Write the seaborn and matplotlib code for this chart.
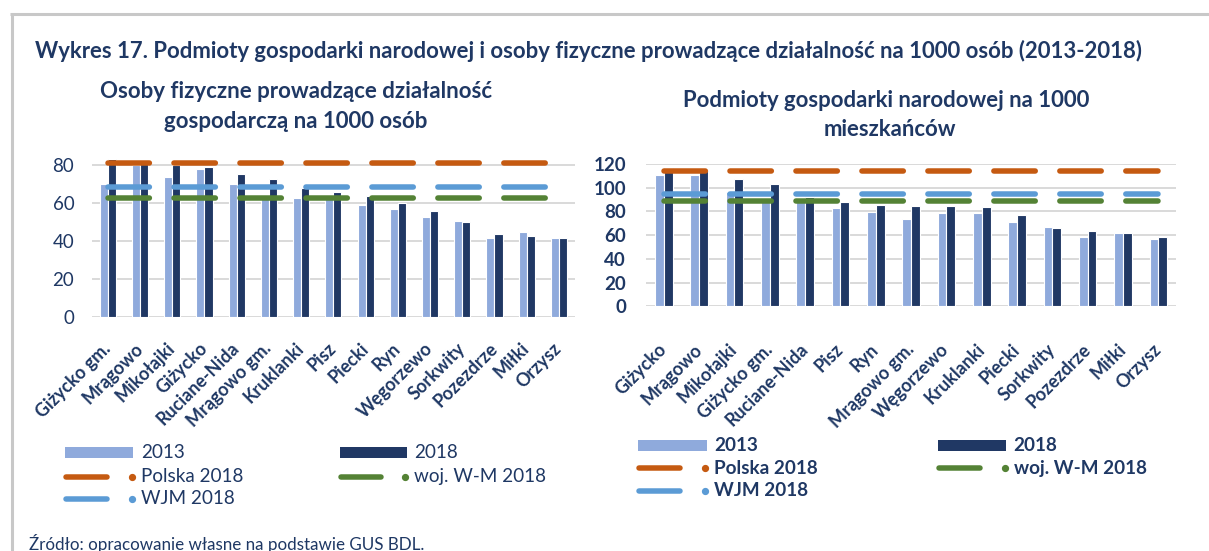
import numpy as np
import pandas as pd
import matplotlib
matplotlib.use("Agg")
import matplotlib.pyplot as plt
import matplotlib.transforms as mtransforms
from matplotlib.lines import Line2D
from matplotlib.patches import Rectangle
import seaborn as sns

# ---------------- data ----------------
left_categories = ["Giżycko gm.", "Mrągowo", "Mikołajki", "Giżycko", "Ruciane-Nida",
                   "Mrągowo gm.", "Kruklanki", "Pisz", "Piecki", "Ryn", "Węgorzewo",
                   "Sorkwity", "Pozezdrze", "Miłki", "Orzysz"]
left_2013 = [70.1, 80.0, 73.8, 78.0, 70.1, 63.0, 62.7, 63.0, 58.8, 56.8, 52.7, 50.6, 41.2, 44.4, 41.2]
left_2018 = [83.0, 80.5, 80.0, 78.9, 75.0, 72.7, 67.6, 65.8, 63.7, 60.0, 55.8, 49.7, 43.3, 42.3, 41.2]
left_polska = 81.1
left_woj = 62.8
left_wjm = 68.5

right_categories = ["Giżycko", "Mrągowo", "Mikołajki", "Giżycko gm.", "Ruciane-Nida",
                    "Pisz", "Ryn", "Mrągowo gm.", "Węgorzewo", "Kruklanki", "Piecki",
                    "Sorkwity", "Pozezdrze", "Miłki", "Orzysz"]
right_2013 = [111.0, 111.0, 96.0, 91.0, 90.0, 82.9, 79.8, 73.9, 79.0, 79.0, 70.8, 66.6, 58.7, 61.8, 56.7]
right_2018 = [117.0, 114.0, 107.0, 102.8, 92.0, 88.0, 85.7, 84.6, 84.6, 83.7, 76.7, 65.7, 63.5, 61.8, 58.7]
right_polska = 114.0
right_woj = 89.0
right_wjm = 94.4

years = ["2013", "2018"]
left_yticks = [0, 20, 40, 60, 80]
right_yticks = [0, 20, 40, 60, 80, 100, 120]
label_polska = "Polska 2018"
label_woj = "woj. W-M 2018"
label_wjm = "WJM 2018"

main_title = "Wykres 17. Podmioty gospodarki narodowej i osoby fizyczne prowadzące działalność na 1000 osób (2013-2018)"
left_title = ["Osoby fizyczne prowadzące działalność", "gospodarczą na 1000 osób"]
right_title = ["Podmioty gospodarki narodowej na 1000", "mieszkańców"]
source_text = "Źródło: opracowanie własne na podstawie GUS BDL."

# ---------------- style ----------------
C2013 = "#8FAADC"
C2018 = "#203864"
CPOL = "#C55A11"
CWOJ = "#548235"
CWJM = "#5B9BD5"
TXT = "#1F3864"
GRID = "#D9D9D9"

W, H = 1209, 551
sns.set_theme(style="white")
plt.rcParams["font.family"] = ["Lato", "DejaVu Sans"]
plt.rcParams["lines.scale_dashes"] = False

fig = plt.figure(figsize=(W / 100, H / 100), dpi=100)
fig.patch.set_facecolor("white")


def fx(x):
    return x / W


def fy(y):
    return 1 - y / H


def make_axes(l, r, t, b):
    return fig.add_axes([fx(l), fy(b), (r - l) / W, (b - t) / H])


LW = 3.96          # reference line width (pt)
DASH = (0, (29.8, 17.7))


def draw_panel(ax, cats, v13, v18, refs, ylim, yticks, ybold, ypad, xpad, xoff):
    n = len(cats)
    df = pd.DataFrame({
        "category": cats * 2,
        "year": [years[0]] * n + [years[1]] * n,
        "value": v13 + v18,
    })
    sns.barplot(data=df, x="category", y="value", hue="year", order=cats,
                hue_order=years, palette={years[0]: C2013, years[1]: C2018},
                width=0.5, saturation=1, edgecolor="white", linewidth=0.8,
                legend=False, ax=ax, zorder=2)
    xs = np.arange(n)
    for val, col in refs:
        sns.lineplot(x=xs, y=np.full(n, val), color=col, linewidth=LW,
                     linestyle=DASH, dash_capstyle="round", ax=ax, zorder=4)
    ax.set_xlim(-0.5, n - 0.5)
    ax.set_ylim(*ylim)
    ax.set_yticks(yticks)
    ax.set_yticklabels([str(t) for t in yticks], fontsize=13.5,
                       fontweight="bold" if ybold else "normal", color=TXT)
    ax.set_xticks(xs)
    ax.set_xticklabels(cats, rotation=45, ha="right", va="center",
                       rotation_mode="anchor", fontsize=13, fontweight="bold",
                       color=TXT)
    off = mtransforms.ScaledTranslation(xoff / 100, 0, fig.dpi_scale_trans)
    for lbl in ax.get_xticklabels():
        lbl.set_transform(lbl.get_transform() + off)
    ax.tick_params(axis="y", length=0, pad=ypad)
    ax.tick_params(axis="x", length=0, pad=xpad)
    ax.set_xlabel("")
    ax.set_ylabel("")
    ax.yaxis.grid(True, color=GRID, linewidth=1.4)
    ax.xaxis.grid(False)
    ax.set_axisbelow(True)
    for s in ax.spines.values():
        s.set_visible(False)
    ax.set_facecolor("none")


ax1 = make_axes(91.7, 575, 146.0, 316.5)
draw_panel(ax1, left_categories, left_2013, left_2018,
           [(left_polska, CPOL), (left_wjm, CWJM), (left_woj, CWOJ)],
           (0, 90), left_yticks, False, 12.5, 21, 6)

ax2 = make_axes(646, 1176, 164.0, 306.3)
draw_panel(ax2, right_categories, right_2013, right_2018,
           [(right_polska, CPOL), (right_wjm, CWJM), (right_woj, CWOJ)],
           (0, 120), right_yticks, True, 14.4, 29, 3)

# ---------------- frame ----------------
fig.add_artist(Line2D([fx(10), fx(W)], [fy(13.5), fy(13.5)], transform=fig.transFigure,
                      color="#C8C8C8", linewidth=2.2, solid_capstyle="butt"))
fig.add_artist(Line2D([fx(11.5), fx(11.5)], [fy(12.5), fy(H)], transform=fig.transFigure,
                      color="#C8C8C8", linewidth=2.2, solid_capstyle="butt"))

# ---------------- texts ----------------
fit_jobs = []
t_title = fig.text(fx(34.7), fy(50.5), main_title, ha="left", va="center",
                   fontsize=14, fontweight="bold", color=TXT)
fit_jobs.append(([t_title], t_title, 1114))

tl1 = fig.text(fx(296), fy(92), left_title[0], ha="center", va="center",
               fontsize=14, fontweight="bold", color=TXT)
tl2 = fig.text(fx(296), fy(121), left_title[1], ha="center", va="center",
               fontsize=14, fontweight="bold", color=TXT)
fit_jobs.append(([tl1, tl2], tl1, 393))

tr1 = fig.text(fx(886.5), fy(100.5), right_title[0], ha="center", va="center",
               fontsize=14, fontweight="bold", color=TXT)
tr2 = fig.text(fx(889.5), fy(129.5), right_title[1], ha="center", va="center",
               fontsize=14, fontweight="bold", color=TXT)
fit_jobs.append(([tr1, tr2], tr1, 409))

t_src = fig.text(fx(28.7), fy(550), source_text, ha="left", va="baseline",
                 fontsize=12, color=TXT)
fit_jobs.append(([t_src], t_src, 394))

CAP = 2.75  # px, half line width


def legend_patch(x0, x1, yc, h, color):
    fig.add_artist(Rectangle((fx(x0), fy(yc + h / 2)), (x1 - x0) / W, h / H,
                             transform=fig.transFigure, facecolor=color,
                             edgecolor="none"))


def legend_line(x0, x1, yc, color, dotx):
    fig.add_artist(Line2D([fx(x0 + CAP), fx(x1 - CAP)], [fy(yc), fy(yc)],
                          transform=fig.transFigure, color=color, linewidth=LW,
                          solid_capstyle="round"))
    fig.add_artist(Line2D([fx(dotx)], [fy(yc)], transform=fig.transFigure,
                          marker="o", markersize=4.2, color=color,
                          markeredgecolor=color, linestyle="none"))


def legend_block(rows, col1, col2, bold, fit_target):
    weight = "bold" if bold else "normal"
    texts = []
    y1, y2, y3 = rows
    legend_patch(col1["px0"], col1["px1"], y1, 11, C2013)
    texts.append(fig.text(fx(col1["tx"]), fy(y1), years[0], ha="left", va="center",
                          fontsize=13, fontweight=weight, color=TXT))
    legend_patch(col2["px0"], col2["px1"], y1, 11, C2018)
    texts.append(fig.text(fx(col2["tx"]), fy(y1), years[1], ha="left", va="center",
                          fontsize=13, fontweight=weight, color=TXT))
    legend_line(col1["lx0"], col1["lx1"], y2, CPOL, col1["dot"])
    tp = fig.text(fx(col1["tx"]), fy(y2), label_polska, ha="left", va="center",
                  fontsize=13, fontweight=weight, color=TXT)
    texts.append(tp)
    legend_line(col2["lx0"], col2["lx1"], y2, CWOJ, col2["dot"])
    texts.append(fig.text(fx(col2["tx"]), fy(y2), label_woj, ha="left", va="center",
                          fontsize=13, fontweight=weight, color=TXT))
    legend_line(col1["lx0"], col1["lx1"], y3, CWJM, col1["dot"])
    texts.append(fig.text(fx(col1["tx"]), fy(y3), label_wjm, ha="left", va="center",
                          fontsize=13, fontweight=weight, color=TXT))
    fit_jobs.append((texts, tp, fit_target))


legend_block((452.7, 476.7, 499.0),
             dict(px0=64.6, px1=132.5, lx0=62.9, lx1=109.3, dot=131.8, tx=140.7),
             dict(px0=340.0, px1=406.8, lx0=337.9, lx1=383.6, dot=405.0, tx=414.5),
             False, 101.8)
legend_block((445.7, 468.3, 491.0),
             dict(px0=638.0, px1=706.5, lx0=636.0, lx1=682.5, dot=705.4, tx=714.5),
             dict(px0=937.8, px1=1006.0, lx0=936.0, lx1=983.0, dot=1005.0, tx=1013.6),
             True, 104.0)

# fit text sizes to the reference widths
fig.canvas.draw()
renderer = fig.canvas.get_renderer()
for group, ref, target in fit_jobs:
    w = ref.get_window_extent(renderer).width
    new = ref.get_fontsize() * target / w
    for t in group:
        t.set_fontsize(new)

fig.savefig("out.png", dpi=100, facecolor="white")
